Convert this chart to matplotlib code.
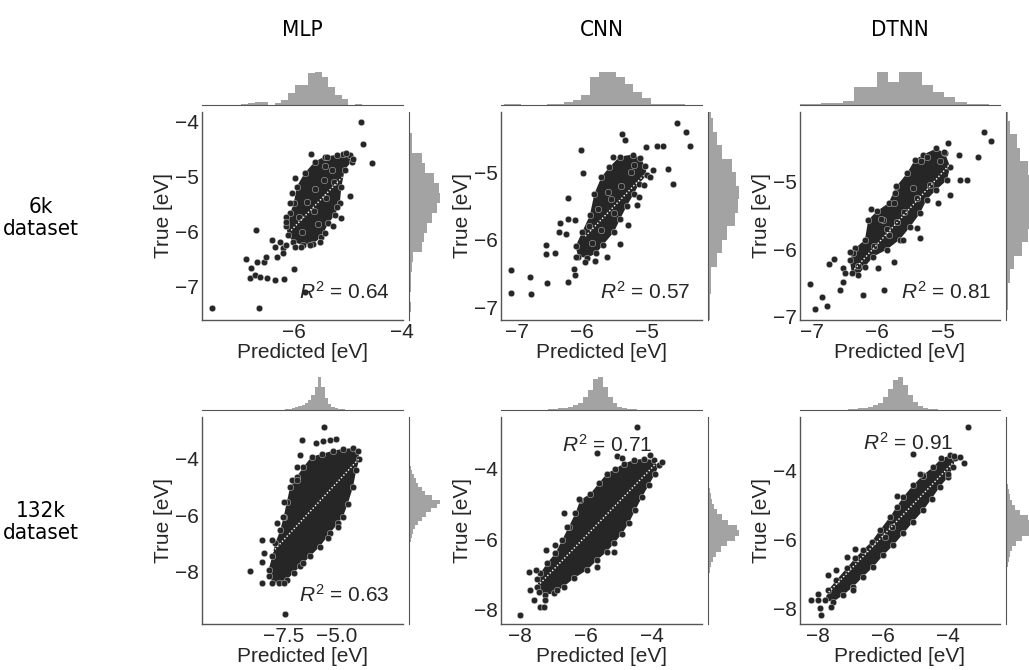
import matplotlib
matplotlib.use("Agg")
import matplotlib.pyplot as plt
import numpy as np
from matplotlib import font_manager

plt.rcParams['font.family'] = ['Liberation Sans', 'DejaVu Sans']
plt.rcParams['mathtext.fontset'] = 'custom'
plt.rcParams['mathtext.rm'] = 'Liberation Sans'
plt.rcParams['mathtext.it'] = 'Liberation Sans:italic'

# narrow font for the titles, if one is installed
cond = dict(family='Roboto')
narrow = [f for f in font_manager.fontManager.ttflist
          if ('Narrow' in f.name or 'Condensed' in f.name or f.stretch in ('condensed', 'semi-condensed'))
          and f.style == 'normal' and f.weight in (400, 'normal', 'regular')]
if narrow:
    cond = dict(family=narrow[0].name, stretch=narrow[0].stretch)

models = ["MLP", "CNN", "DTNN"]
row_labels = ["6k\ndataset", "132k\ndataset"]
r2_values = [0.64, 0.57, 0.81, 0.63, 0.71, 0.91]

# ---------------- 6k / MLP ----------------
mlp6k_core_x = [-6.14, -6.07, -6.00, -5.95, -5.80, -5.61, -5.43, -5.21, -4.96, -4.93, -5.06, -5.12,
                -5.15, -5.24, -5.36, -5.49, -5.64, -5.83, -6.01, -6.11]
mlp6k_core_y = [-5.90, -5.66, -5.48, -5.18, -4.93, -4.72, -4.63, -4.60, -4.60, -4.72, -4.87, -5.18,
                -5.48, -5.69, -5.84, -6.09, -6.21, -6.24, -6.18, -6.06]
mlp6k_x = [-5.98, -5.69, -5.38, -5.09, -5.04, -4.90, -5.43, -4.96, -5.13, -5.21, -6.04, -6.07, -6.14,
           -6.15, -5.86, -5.98, -5.70, -5.52, -5.43, -5.27, -6.41, -6.26, -6.20, -6.31, -6.20, -6.15,
           -6.35, -6.70, -6.89, -6.80, -6.69, -6.56, -6.52, -6.81, -6.72, -6.63, -6.49, -6.35, -6.19,
           -5.99, -5.80, -7.52, -6.65, -4.75, -4.72, -4.56,
           -5.90, -5.75, -5.60, -5.45, -5.30, -5.62, -5.40, -5.85, -5.55, -5.25]
mlp6k_y = [-5.02, -4.59, -4.64, -4.59, -4.57, -4.67, -4.81, -5.35, -5.75, -5.54, -5.30, -5.48, -5.72,
           -5.81, -6.27, -6.27, -6.24, -6.18, -6.02, -5.90, -6.15, -6.18, -6.30, -6.45, -6.39, -6.24,
           -6.27, -5.96, -6.49, -6.66, -6.54, -6.54, -6.45, -6.84, -6.78, -6.81, -6.84, -6.88, -6.86,
           -6.68, -7.10, -7.39, -7.39, -4.01, -4.40, -4.74,
           -5.72, -5.45, -5.22, -5.05, -4.88, -5.62, -5.38, -6.00, -5.85, -5.10]
mlp6k_line_x = [-6.05, -5.10]
mlp6k_line_y = [-5.97, -5.00]
mlp6k_top_start, mlp6k_top_w = -6.97, 0.1235
mlp6k_top = [3, 5, 8, 8, 0, 5, 15, 35, 60, 60, 97, 100, 85, 55, 30, 17, 0, 4]
mlp6k_right_start, mlp6k_right_w = -7.45, 0.18
mlp6k_right = [5, 3, 5, 7, 10, 12, 40, 45, 54, 70, 85, 96, 90, 75, 50, 40, 10, 8, 4, 3]

# ---------------- 6k / CNN ----------------
cnn6k_core_x = [-6.10, -6.00, -5.88, -5.81, -5.70, -5.58, -5.42, -5.22, -5.10, -5.03, -5.00, -5.12,
                -5.20, -5.31, -5.41, -5.51, -5.68, -5.78, -5.92, -6.06]
cnn6k_core_y = [-6.10, -5.89, -5.64, -5.32, -5.07, -4.93, -4.77, -4.74, -4.79, -4.91, -5.04, -5.17,
                -5.32, -5.50, -5.69, -5.89, -6.08, -6.20, -6.27, -6.25]
cnn6k_x = [-4.53, -4.39, -4.34, -4.67, -4.59, -4.85, -4.75, -5.01, -5.39, -5.34, -6.01, -5.99, -6.21,
           -5.52, -7.10, -7.10, -6.80, -6.79, -6.54, -6.55, -6.55, -6.42, -6.34, -6.36, -6.24, -6.21,
           -6.11, -6.21, -6.11, -6.13, -6.09, -5.95, -5.80, -5.62, -5.42, -5.29, -5.16, -5.12, -4.90,
           -4.95, -5.05,
           -5.90, -5.75, -5.55, -5.40, -5.25, -5.70, -5.50, -5.85, -5.60, -5.20]
cnn6k_y = [-4.27, -4.40, -4.61, -4.95, -5.17, -4.61, -4.61, -4.63, -4.43, -4.53, -4.67, -5.02, -5.39,
           -4.77, -6.45, -6.79, -6.55, -6.81, -6.64, -6.08, -6.22, -6.20, -5.76, -5.88, -5.91, -5.69,
           -5.71, -6.62, -6.53, -6.44, -6.25, -6.33, -6.32, -6.25, -6.06, -5.79, -5.49, -5.37, -4.97,
           -5.07, -5.19,
           -5.80, -5.55, -5.40, -5.20, -5.00, -5.85, -5.60, -6.05, -5.30, -4.90]
cnn6k_line_x = [-5.95, -5.05]
cnn6k_line_y = [-5.95, -5.05]
cnn6k_top_start, cnn6k_top_w = -7.21, 0.1333
cnn6k_top = [2, 2, 1, 1, 1, 2, 3, 10, 15, 30, 85, 100, 100, 85, 65, 40, 20, 3, 3, 2, 2, 1]
cnn6k_right_start, cnn6k_right_w = -7.2, 0.2
cnn6k_right = [5, 6, 8, 10, 30, 45, 60, 85, 95, 100, 90, 75, 45, 30, 15, 8]

# ---------------- 6k / DTNN ----------------
dtnn6k_core_x = [-6.42, -6.34, -6.19, -6.14, -6.01, -5.83, -5.71, -5.55, -5.43, -5.30, -5.10, -4.97,
                 -4.89, -4.94, -5.10, -5.25, -5.35, -5.50, -5.66, -5.86, -6.06, -6.19, -6.29, -6.39]
dtnn6k_core_y = [-6.16, -5.99, -5.86, -5.57, -5.44, -5.32, -5.07, -4.88, -4.68, -4.60, -4.51, -4.58,
                 -4.78, -4.98, -5.12, -5.27, -5.47, -5.67, -5.86, -6.01, -6.11, -6.26, -6.38, -6.36]
dtnn6k_x = [-4.38, -4.27, -4.47, -4.74, -4.64, -4.90, -5.07, -4.76, -4.92, -4.99, -5.25, -5.33, -5.61,
            -5.35, -5.40, -5.74, -5.90, -5.99, -6.22, -6.37, -6.42, -6.66, -6.74, -6.52, -6.52, -6.57,
            -6.50, -7.03, -6.85, -6.95, -6.77, -6.09, -5.91, -5.75, -5.73, -5.83,
            -6.30, -6.05, -5.85, -5.60, -5.40, -5.20, -5.95, -5.70, -5.45, -5.05]
dtnn6k_y = [-4.27, -4.40, -4.64, -4.97, -4.97, -5.20, -5.32, -4.61, -4.43, -4.56, -4.63, -4.70, -5.86,
            -5.84, -5.69, -6.19, -6.60, -6.28, -6.68, -6.06, -6.04, -6.14, -6.22, -6.28, -6.48, -6.60,
            -6.36, -6.52, -6.71, -6.88, -6.85, -5.40, -5.57, -5.32, -5.17, -5.79,
            -6.25, -5.95, -5.70, -5.45, -5.25, -5.05, -5.55, -5.60, -5.10, -4.70]
dtnn6k_line_x = [-6.35, -4.90]
dtnn6k_line_y = [-6.30, -4.75]
dtnn6k_top_start, dtnn6k_top_w = -7.21, 0.1715
dtnn6k_top = [2, 3, 5, 5, 12, 55, 55, 100, 70, 100, 100, 62, 40, 23, 10, 3, 4]
dtnn6k_right_start, dtnn6k_right_w = -7.1, 0.2
dtnn6k_right = [4, 5, 7, 12, 25, 50, 70, 80, 100, 100, 95, 70, 45, 35, 12, 5]

# ---------------- 132k / MLP ----------------
mlp132k_core_x = [-8.02, -8.18, -8.02, -7.87, -7.64, -7.48, -7.33, -7.18, -6.87, -6.56, -6.17, -5.71,
                  -5.17, -4.71, -4.24, -4.01, -3.94, -4.09, -4.24, -4.48, -4.71, -4.94, -5.32, -5.79,
                  -6.25, -6.71, -7.02, -7.33, -7.72]
mlp132k_core_y = [-8.40, -7.93, -7.46, -6.99, -6.53, -6.06, -5.53, -5.01, -4.65, -4.30, -3.93, -3.84,
                  -3.72, -3.66, -3.63, -3.72, -4.01, -4.42, -5.01, -5.59, -6.06, -6.29, -6.64, -7.11,
                  -7.46, -7.81, -8.05, -8.28, -8.40]
mlp132k_x = [-5.60, -6.64, -5.99, -5.63, -5.32, -5.02, -6.71, -7.10, -7.48, -7.52, -7.79, -8.02, -8.49,
             -8.41, -8.49, -9.06, -8.49, -8.18, -7.48, -6.56, -5.40, -4.94, -6.87, -6.87, -7.44]
mlp132k_y = [-2.90, -3.35, -3.45, -3.39, -3.35, -3.31, -3.89, -4.77, -5.53, -6.06, -6.29, -6.88, -6.88,
             -7.35, -7.64, -7.96, -8.40, -8.14, -8.40, -7.70, -6.82, -6.41, -4.30, -4.77, -9.51]
mlp132k_line_x = [-8.00, -3.95]
mlp132k_line_y = [-7.30, -4.00]
mlp132k_top_start, mlp132k_top_w = -7.42, 0.155
mlp132k_top = [2, 3, 6, 9, 13, 16, 22, 30, 45, 70, 100, 70, 35, 18, 10, 5, 3, 2, 1]
mlp132k_right_start, mlp132k_right_w = -7.4, 0.15
mlp132k_right = [1, 2, 3, 5, 8, 12, 18, 28, 40, 55, 70, 88, 100, 72, 50, 40, 30, 22, 15, 10, 6, 4, 2, 1]

# ---------------- 132k / CNN ----------------
cnn132k_core_x = [-7.49, -7.39, -7.19, -6.94, -6.73, -6.53, -6.33, -6.18, -5.87, -5.62, -5.37, -5.11,
                  -4.86, -4.56, -4.25, -3.95, -3.80, -3.90, -4.10, -4.30, -4.51, -4.71, -4.91, -5.16,
                  -5.37, -5.67, -5.97, -6.38, -6.68, -6.99, -7.24, -7.44]
cnn132k_core_y = [-7.34, -6.96, -6.68, -6.40, -6.02, -5.65, -5.27, -4.89, -4.71, -4.42, -4.14, -4.00,
                  -3.86, -3.76, -3.72, -3.76, -3.91, -4.14, -4.47, -4.80, -5.18, -5.55, -5.84, -6.12,
                  -6.35, -6.59, -6.87, -7.11, -7.34, -7.53, -7.58, -7.48]
cnn132k_x = [-4.46, -5.67, -5.06, -4.91, -4.07, -3.70, -6.23, -6.68, -6.58, -6.94, -7.21, -7.54, -7.75,
             -7.49, -7.70, -7.59, -7.41, -7.29, -8.00, -5.16, -5.67, -6.89, -7.24]
cnn132k_y = [-2.82, -3.56, -3.65, -3.69, -3.62, -3.81, -4.85, -5.27, -5.65, -6.16, -6.31, -6.87, -6.94,
             -7.13, -7.44, -7.72, -7.92, -7.91, -8.14, -6.35, -6.78, -7.44, -7.72]
cnn132k_line_x = [-7.40, -3.80]
cnn132k_line_y = [-7.25, -3.78]
cnn132k_top_start, cnn132k_top_w = -7.3, 0.15
cnn132k_top = [1, 2, 3, 5, 7, 10, 15, 22, 38, 62, 95, 100, 70, 40, 20, 10, 5, 3, 2, 1]
cnn132k_right_start, cnn132k_right_w = -7.4, 0.15
cnn132k_right = [1, 2, 3, 6, 10, 16, 25, 40, 60, 85, 100, 92, 62, 45, 30, 20, 13, 8, 5, 3, 2, 1]

# ---------------- 132k / DTNN ----------------
dtnn132k_core_x = [-7.79, -7.69, -7.44, -7.13, -6.87, -6.62, -6.36, -6.10, -5.79, -5.59, -5.38, -5.08,
                   -4.77, -4.46, -4.21, -3.95, -3.79, -3.85, -4.00, -4.26, -4.51, -4.77, -5.08, -5.38,
                   -5.69, -6.00, -6.31, -6.62, -6.92, -7.23, -7.54]
dtnn132k_core_y = [-7.76, -7.47, -7.18, -6.84, -6.55, -6.31, -6.07, -5.73, -5.35, -5.06, -4.77, -4.43,
                   -4.14, -3.90, -3.66, -3.57, -3.66, -3.90, -4.19, -4.48, -4.82, -5.16, -5.49, -5.83,
                   -6.17, -6.46, -6.80, -7.08, -7.37, -7.61, -7.81]
dtnn132k_x = [-3.38, -5.10, -3.83, -3.64, -3.52, -4.00, -4.77, -4.87, -5.59, -5.74, -5.95, -6.87, -7.13,
              -7.44, -7.69, -8.00, -8.23, -7.95, -8.00, -7.90, -7.62, -6.92]
dtnn132k_y = [-2.75, -3.54, -3.60, -3.63, -3.79, -4.10, -4.17, -4.10, -4.75, -5.64, -5.93, -6.27, -6.51,
              -6.89, -7.04, -7.57, -7.76, -8.00, -7.76, -8.19, -7.97, -7.47]
dtnn132k_line_x = [-7.75, -3.85]
dtnn132k_line_y = [-7.60, -3.78]
dtnn132k_top_start, dtnn132k_top_w = -7.25, 0.155
dtnn132k_top = [1, 2, 3, 5, 7, 10, 15, 22, 40, 65, 92, 100, 75, 45, 25, 12, 6, 3, 2]
dtnn132k_right_start, dtnn132k_right_w = -7.4, 0.15
dtnn132k_right = [1, 2, 3, 4, 6, 9, 13, 20, 32, 52, 80, 100, 95, 70, 45, 30, 20, 13, 8, 5, 3, 2, 1]

# axis ranges and ticks
xlims = [(-7.70, -3.98), (-7.25, -4.15), (-7.18, -4.13), (-11.3, -1.9), (-8.59, -2.48), (-8.56, -2.41)]
ylims = [(-7.60, -3.82), (-7.19, -4.11), (-7.05, -3.97), (-9.85, -2.53), (-8.40, -2.54), (-8.45, -2.46)]
xticks = [[-6, -4], [-7, -6, -5], [-7, -6, -5], [-7.5, -5.0], [-8, -6, -4], [-8, -6, -4]]
yticks = [[-7, -6, -5, -4], [-7, -6, -5], [-7, -6, -5], [-8, -6, -4], [-8, -6, -4], [-8, -6, -4]]
r2_pos = [(0.71, 0.135), (0.716, 0.135), (0.73, 0.135), (0.71, 0.14), (0.53, 0.865), (0.54, 0.874)]

panels = [
    (mlp6k_core_x, mlp6k_core_y, mlp6k_x, mlp6k_y, mlp6k_line_x, mlp6k_line_y,
     mlp6k_top_start, mlp6k_top_w, mlp6k_top, mlp6k_right_start, mlp6k_right_w, mlp6k_right),
    (cnn6k_core_x, cnn6k_core_y, cnn6k_x, cnn6k_y, cnn6k_line_x, cnn6k_line_y,
     cnn6k_top_start, cnn6k_top_w, cnn6k_top, cnn6k_right_start, cnn6k_right_w, cnn6k_right),
    (dtnn6k_core_x, dtnn6k_core_y, dtnn6k_x, dtnn6k_y, dtnn6k_line_x, dtnn6k_line_y,
     dtnn6k_top_start, dtnn6k_top_w, dtnn6k_top, dtnn6k_right_start, dtnn6k_right_w, dtnn6k_right),
    (mlp132k_core_x, mlp132k_core_y, mlp132k_x, mlp132k_y, mlp132k_line_x, mlp132k_line_y,
     mlp132k_top_start, mlp132k_top_w, mlp132k_top, mlp132k_right_start, mlp132k_right_w, mlp132k_right),
    (cnn132k_core_x, cnn132k_core_y, cnn132k_x, cnn132k_y, cnn132k_line_x, cnn132k_line_y,
     cnn132k_top_start, cnn132k_top_w, cnn132k_top, cnn132k_right_start, cnn132k_right_w, cnn132k_right),
    (dtnn132k_core_x, dtnn132k_core_y, dtnn132k_x, dtnn132k_y, dtnn132k_line_x, dtnn132k_line_y,
     dtnn132k_top_start, dtnn132k_top_w, dtnn132k_top, dtnn132k_right_start, dtnn132k_right_w, dtnn132k_right),
]

W, H = 1029, 670
fig = plt.figure(figsize=(W / 100, H / 100), dpi=100)

def box(l, t, r, b):
    return fig.add_axes([l / W, 1 - b / H, (r - l) / W, (b - t) / H])

dark = '#262626'
grey = '#a3a3a3'
spine_c = '#555555'
cols = [(202, 403), (501, 702), (800, 1000)]
rows = [(112, 320), (417, 624)]

for i, p in enumerate(panels):
    core_x, core_y, px, py, lx, ly, ts, tw, tc, rs, rw, rc = p
    l, r = cols[i % 3]
    t, b = rows[i // 3]
    ax = box(l, t, r, b)
    ax.fill(core_x, core_y, color=dark, lw=0, zorder=2)
    ax.scatter(core_x, core_y, s=22, color=dark, edgecolors='white', linewidths=0.25, zorder=3)
    ax.scatter(px, py, s=22, color=dark, edgecolors='white', linewidths=0.25, zorder=3)
    ax.plot(lx, ly, color='white', lw=1.0, ls=(0, (1, 1.5)), zorder=4)
    ax.set_xlim(xlims[i])
    ax.set_ylim(ylims[i])
    ax.set_xticks(xticks[i])
    ax.set_yticks(yticks[i])
    ax.tick_params(length=0, labelsize=15, pad=2, labelcolor=dark)
    for s in ['top', 'right']:
        ax.spines[s].set_visible(False)
    for s in ['left', 'bottom']:
        ax.spines[s].set_color(spine_c)
        ax.spines[s].set_linewidth(1.0)
    ax.set_xlabel('Predicted [eV]', fontsize=15, labelpad=1, color=dark)
    ax.set_ylabel('True [eV]', fontsize=15, labelpad=2, color=dark)
    ax.text(r2_pos[i][0], r2_pos[i][1], '$R^2$ = %.2f' % r2_values[i], transform=ax.transAxes,
            ha='center', va='center', fontsize=15, color=dark, zorder=5)

    # top marginal histogram
    axt = box(l, t - 47, r, t - 7)
    edges_t = ts + tw * np.arange(len(tc) + 1)
    axt.stairs(tc, edges_t, fill=True, color=grey, lw=0)
    axt.set_xlim(xlims[i])
    axt.set_ylim(0, max(tc) * 1.21)
    axt.set_xticks([])
    axt.set_yticks([])
    for s in ['top', 'right', 'left']:
        axt.spines[s].set_visible(False)
    axt.spines['bottom'].set_color(spine_c)

    # right marginal histogram
    axr = box(r + 6, t, r + 46, b)
    edges_r = rs + rw * np.arange(len(rc) + 1)
    axr.stairs(rc, edges_r, fill=True, color=grey, lw=0, orientation='horizontal')
    axr.set_ylim(ylims[i])
    axr.set_xlim(0, max(rc) * 1.27)
    axr.set_xticks([])
    axr.set_yticks([])
    for s in ['top', 'right', 'bottom']:
        axr.spines[s].set_visible(False)
    axr.spines['left'].set_color(spine_c)

for j, m in enumerate(models):
    l, r = cols[j]
    fig.text((l + r) / 2 / W, 1 - 30 / H, m, ha='center', va='center', fontsize=16, color='black', **cond)

fig.text(41 / W, 1 - 218 / H, row_labels[0], ha='center', va='center', fontsize=16,
         linespacing=1.15, color='black', **cond)
fig.text(41 / W, 1 - 522 / H, row_labels[1], ha='center', va='center', fontsize=16,
         linespacing=1.15, color='black', **cond)

fig.savefig('out.png', dpi=100)
